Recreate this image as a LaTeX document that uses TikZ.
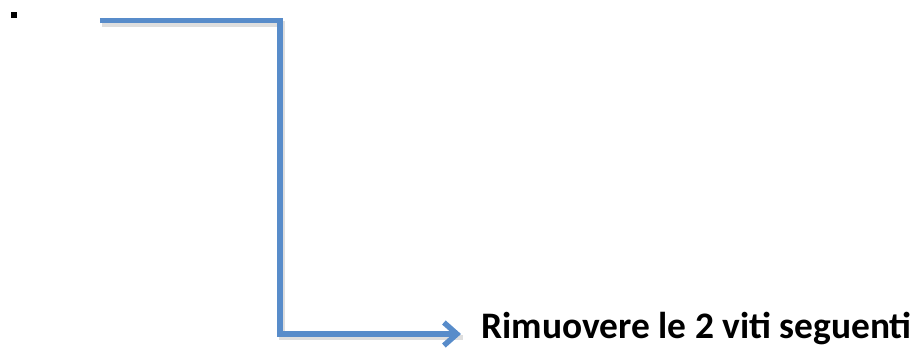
\documentclass[tikz,border=0pt]{standalone}
\usepackage{fontspec}
\setmainfont{Carlito}
\usetikzlibrary{arrows.meta}
\definecolor{officeblue}{RGB}{88,140,202}

\begin{document}
\begin{tikzpicture}[scale=0.2]
\tikzstyle{every node}+=[inner sep=0pt]
\tikzstyle{flow}=[draw=officeblue, line width=3.1pt, line join=miter, -{Straight Barb[length=2.6mm, width=4.6mm]}]
\tikzstyle{flowshadow}=[draw=black, opacity=0.13, line width=3.4pt, line join=miter]
\useasboundingbox (0,0) rectangle (91.6,-35.5);
\fill [black] (1.1,-1.2) rectangle (1.7,-1.8);
\coordinate (a) at (10.0,-2.05);
\coordinate (b) at (28.0,-33.4);
\coordinate (c) at (46.1,-33.4);
\draw (48.1,-33.8) node [anchor=base west, font=\fontsize{21.3}{25}\selectfont\bfseries] (msg) {Rimuovere le 2 viti seguenti};
\draw [flowshadow] ([shift={(0.2,-0.35)}]a) -| ([shift={(0.2,-0.35)}]b) -- ([shift={(0.2,-0.35)}]c);
\draw [flow] (a) -| (b) -- (c);
\end{tikzpicture}
\end{document}
